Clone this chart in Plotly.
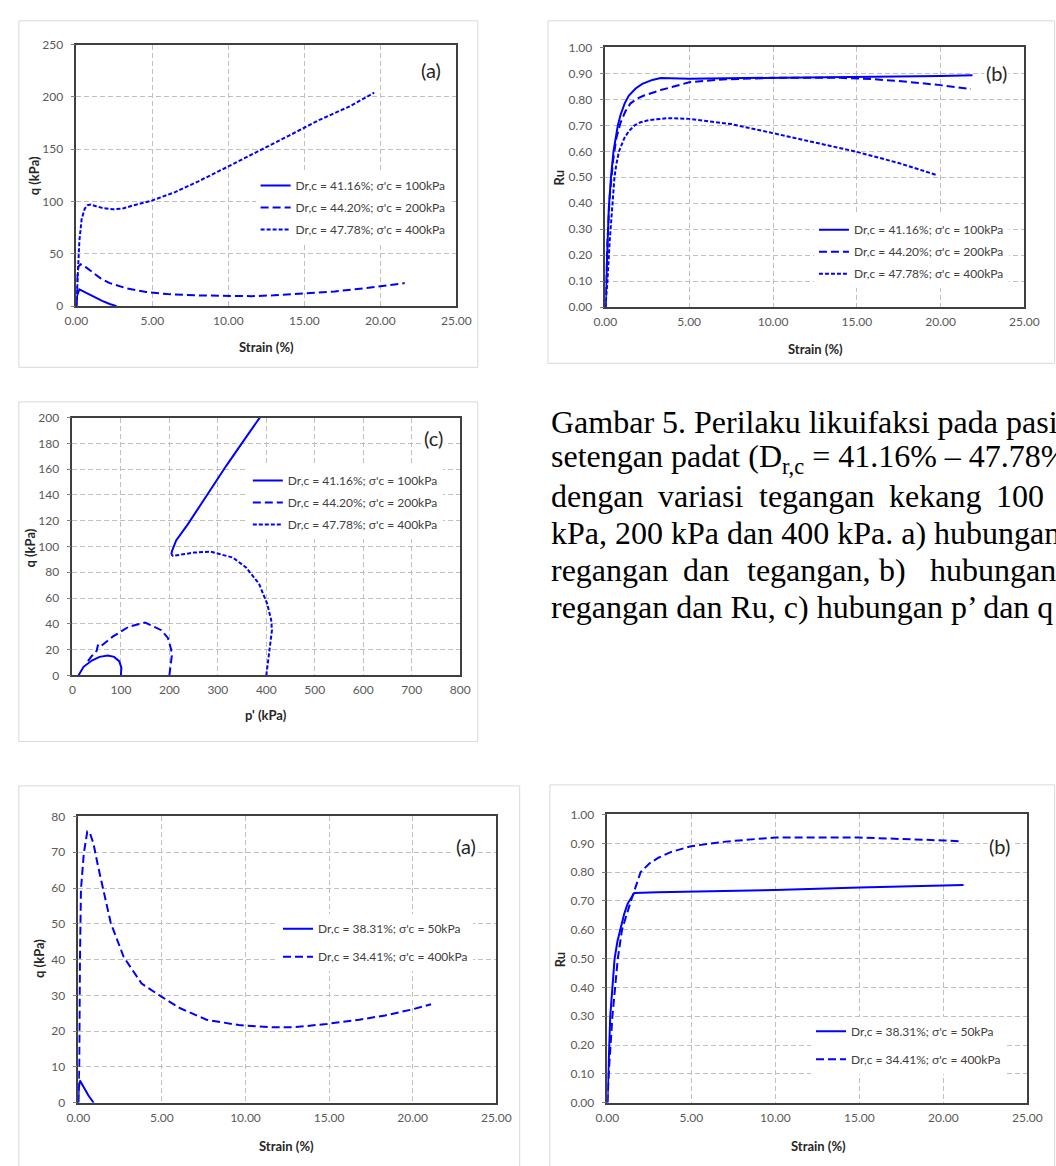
import plotly.graph_objects as go

W, H = 1056, 1166

# ---------------- DATA ----------------
# Panel (a) top: Strain (%) vs q (kPa)
a1_strain_100 = [0, 0.05, 0.2, 0.6, 1.1, 1.7, 2.2, 2.65]
a1_q_100 = [0, 10, 16, 13, 9.5, 5, 2, 0]
a1_strain_200 = [0, 0.03, 0.08, 0.15, 0.3, 0.6, 1.1, 1.6, 2.2, 3.3, 4.6, 6, 8, 10, 11.5, 13, 15, 17, 19, 20.5, 21.6]
a1_q_200 = [0, 20, 33, 38, 40, 37.5, 32, 26.5, 22, 17, 13.5, 11.5, 10.2, 9.5, 9.5, 10.3, 12, 14, 17.2, 19.7, 22]
a1_strain_400 = [0, 0.05, 0.1, 0.2, 0.35, 0.55, 0.75, 0.95, 1.3, 1.8, 2.4, 3.0, 3.7, 5.0, 6.5, 8.0, 10.0, 12.0, 14.0, 16.0, 18.0, 19.6]
a1_q_400 = [0, 18, 35, 62, 83, 93, 96.5, 97, 95.5, 93.5, 92.6, 93, 96, 101, 109, 119, 133.5, 148, 163, 178, 191, 204]

# Panel (b) top: Strain (%) vs Ru
b1_strain_100 = [0, 0.1, 0.2, 0.33, 0.48, 0.74, 0.9, 1.15, 1.4, 1.8, 2.2, 2.8, 3.3, 5, 10, 15, 20, 21.9]
b1_ru_100 = [0, 0.2, 0.38, 0.5, 0.6, 0.7, 0.74, 0.785, 0.815, 0.842, 0.86, 0.875, 0.882, 0.88, 0.883, 0.886, 0.89, 0.893]
b1_strain_200 = [0, 0.12, 0.25, 0.45, 0.65, 0.9, 1.2, 1.5, 1.9, 2.3, 3.3, 4.2, 5, 7, 10, 14, 16, 18, 20, 21.8]
b1_ru_200 = [0, 0.25, 0.42, 0.56, 0.65, 0.71, 0.755, 0.785, 0.803, 0.815, 0.836, 0.853, 0.866, 0.877, 0.883, 0.883, 0.878, 0.868, 0.855, 0.84]
b1_strain_400 = [0, 0.12, 0.25, 0.35, 0.45, 0.54, 0.65, 0.81, 1.12, 1.4, 1.74, 2.1, 2.6, 3.7, 5, 6, 7.5, 10, 12.5, 15, 17.5, 19.7]
b1_ru_400 = [0, 0.1, 0.25, 0.35, 0.45, 0.5, 0.55, 0.6, 0.65, 0.678, 0.7, 0.712, 0.72, 0.728, 0.725, 0.718, 0.705, 0.67, 0.635, 0.598, 0.555, 0.51]

# Panel (c): p' (kPa) vs q (kPa)
c_p_100 = [100, 101, 96.5, 86, 73, 56, 40, 23, 12.7]
c_q_100 = [0, 6, 11, 14.3, 15.3, 14.3, 11.5, 6.6, 0]
c_p_200 = [200, 205, 203.7, 197, 183.6, 150, 116.6, 83, 60, 53, 50, 40, 30]
c_q_200 = [0, 15, 20, 29, 35, 41, 37.8, 30, 23, 24, 19, 15, 10]
c_p_400 = [400, 405, 411.6, 410, 401.6, 385, 358, 331, 284.5, 251, 224, 207.5, 204]
c_q_400 = [0, 17.4, 35, 43, 55.7, 71, 83.8, 91.4, 96, 95.3, 93.5, 92.7, 94]
c_p_400_cont = [204, 205.5, 214, 237.6, 277.8, 318, 358, 392]
c_q_400_cont = [94, 96.5, 104.7, 117, 140, 163, 184.7, 203]

# Panel (a) bottom: Strain (%) vs q (kPa)
a2_strain_50 = [0, 0.03, 0.1, 0.3, 0.6, 0.92]
a2_q_50 = [0, 4, 6.2, 4.5, 2.1, 0]
a2_strain_400 = [0, 0.06, 0.1, 0.16, 0.33, 0.54, 0.68, 0.91, 1.17, 1.46, 1.94, 2.72, 3.79, 4.95, 6.1, 7.67, 9.6, 11.55, 12.9, 14.85, 16.8, 18.35, 19.9, 21.1]
a2_q_400 = [0, 10.8, 39, 59.5, 69.6, 75.8, 75.6, 72.4, 66.4, 60.4, 50.3, 40.7, 33.3, 29.7, 26.4, 23.2, 21.7, 21.1, 21.1, 22, 23.2, 24.4, 26, 27.5]

# Panel (b) bottom: Strain (%) vs Ru
b2_strain_50 = [0, 0.05, 0.1, 0.17, 0.3, 0.43, 0.6, 0.76, 1.0, 1.2, 1.45, 1.6, 3, 5, 10, 15, 20, 21.2]
b2_ru_50 = [0, 0.1, 0.2, 0.3, 0.4, 0.5, 0.56, 0.6, 0.655, 0.69, 0.715, 0.728, 0.73, 0.732, 0.738, 0.747, 0.755, 0.755]
b2_strain_400 = [0, 0.1, 0.3, 0.45, 0.62, 0.87, 1.4, 1.98, 2.5, 3.04, 3.8, 4.98, 6.9, 8.86, 10, 15, 18, 20, 21.1]
b2_ru_400 = [0, 0.12, 0.3, 0.4, 0.5, 0.6, 0.7, 0.8, 0.83, 0.85, 0.87, 0.89, 0.905, 0.915, 0.92, 0.92, 0.915, 0.91, 0.907]

names_top = ["Dr,c = 41.16%; σ'c = 100kPa", "Dr,c = 44.20%; σ'c = 200kPa", "Dr,c = 47.78%; σ'c = 400kPa"]
names_bot = ["Dr,c = 38.31%; σ'c = 50kPa", "Dr,c = 34.41%; σ'c = 400kPa"]

strain_ticks = [0, 5, 10, 15, 20, 25]

caption_lines = [
    "Gambar 5. Perilaku likuifaksi pada pasir",
    "setengan padat (D<sub>r,c</sub> = 41.16% – 47.78%)",
    ["dengan", "variasi", "tegangan", "kekang", "100"],
    "kPa, 200 kPa dan 400 kPa. a) hubungan",
    ["regangan", "dan", "tegangan,", "b)", "hubungan"],
    "regangan dan Ru, c) hubungan p’ dan q",
]

# ---------------- FIGURE ----------------
BLUE = "#0000FF"
SOLID = dict(color=BLUE, width=2)
LDASH = dict(color=BLUE, width=2, dash="8px,4px")
SDASH = dict(color=BLUE, width=2, dash="4px,2px")
styles_top = [SOLID, LDASH, SDASH]
styles_bot = [SOLID, LDASH]

fig = go.Figure()

def add(x, y, name, line, ax, leg, show=True, grp=None):
    fig.add_trace(go.Scatter(
        x=x, y=y, name=name, mode="lines", line=line,
        xaxis="x" + ax, yaxis="y" + ax, legend=leg, showlegend=show,
        legendgroup=grp or (leg + name), hoverinfo="skip"))

ax1, ax2, ax3, ax4, ax5 = "", "2", "3", "4", "5"

for xs, ys, nm, st in zip([a1_strain_100, a1_strain_200, a1_strain_400],
                          [a1_q_100, a1_q_200, a1_q_400], names_top, styles_top):
    add(xs, ys, nm, st, ax1, "legend")
for xs, ys, nm, st in zip([b1_strain_100, b1_strain_200, b1_strain_400],
                          [b1_ru_100, b1_ru_200, b1_ru_400], names_top, styles_top):
    add(xs, ys, nm, st, ax2, "legend2")
for xs, ys, nm, st in zip([c_p_100, c_p_200, c_p_400],
                          [c_q_100, c_q_200, c_q_400], names_top, styles_top):
    add(xs, ys, nm, st, ax3, "legend3")
add(c_p_400_cont, c_q_400_cont, names_top[2] + " ", SOLID, ax3, "legend3", show=False)
for xs, ys, nm, st in zip([a2_strain_50, a2_strain_400],
                          [a2_q_50, a2_q_400], names_bot, styles_bot):
    add(xs, ys, nm, st, ax4, "legend4")
for xs, ys, nm, st in zip([b2_strain_50, b2_strain_400],
                          [b2_ru_50, b2_ru_400], names_bot, styles_bot):
    add(xs, ys, nm, st, ax5, "legend5")


def dx(a, b):
    return [a / W, b / W]


def dy(t, b):
    return [1 - b / H, 1 - t / H]


TICKFONT = dict(family="Lato", size=12, color="#595959")
common = dict(showline=True, mirror=True, linecolor="#404040", linewidth=1.5,
              showgrid=True, gridcolor="#BFBFBF", griddash="5px,3px", gridwidth=1,
              zeroline=False, tickfont=TICKFONT, fixedrange=True)
xcommon = dict(common, ticks="", ticklabelstandoff=3)
ycommon = dict(common, ticks="outside", ticklen=4, tickcolor="#808080", ticklabelstandoff=5)

# plot areas (px): left, right, top, bottom
areas = {
    "": (66, 456, 37, 302),
    "2": (609, 1039, 40, 303),
    "3": (62, 460, 415, 676),
    "4": (68, 497, 819, 1109),
    "5": (611, 1042, 817, 1109),
}
xcfg = {
    "": dict(range=[0, 25], tickvals=strain_ticks, tickformat=".2f"),
    "2": dict(range=[0, 25], tickvals=strain_ticks, tickformat=".2f"),
    "3": dict(range=[0, 800], dtick=100, tickformat="d"),
    "4": dict(range=[0, 25], tickvals=strain_ticks, tickformat=".2f"),
    "5": dict(range=[0, 25], tickvals=strain_ticks, tickformat=".2f"),
}
ycfg = {
    "": dict(range=[0, 250], dtick=50, tickformat="d"),
    "2": dict(range=[0, 1], dtick=0.1, tickformat=".2f"),
    "3": dict(range=[0, 200], dtick=20, tickformat="d"),
    "4": dict(range=[0, 80], dtick=10, tickformat="d"),
    "5": dict(range=[0, 1], dtick=0.1, tickformat=".2f"),
}
lay = {}
for k, (l, r, t, b) in areas.items():
    lay["xaxis" + k] = dict(xcommon, domain=dx(l, r), anchor="y" + k, **xcfg[k])
    lay["yaxis" + k] = dict(ycommon, domain=dy(t, b), anchor="x" + k, **ycfg[k])
fig.update_layout(**lay)

# legends
LEGFONT = dict(family="Lato", size=12, color="#404040")
leg_pos = {  # (left px, top px, gap)
    "legend": (250, 165, 3),
    "legend2": (823, 210, 3),
    "legend3": (242, 464, 3),
    "legend4": (273, 918, 9),
    "legend5": (820, 1022, 9),
}
for k, (l, t, g) in leg_pos.items():
    fig.update_layout(**{k: dict(x=l / W, y=1 - t / H, xanchor="left", yanchor="top",
                                 bgcolor="white", borderwidth=0, font=LEGFONT,
                                 tracegroupgap=g, itemclick=False)})

# outer frames of each chart
frames = [(7, 478, 13, 364), (550, 1070, 13, 360), (7, 478, 399, 743),
          (7, 521, 788, 1180), (552, 1070, 787, 1180)]
for l, r, t, b in frames:
    fig.add_shape(type="rect", xref="paper", yref="paper", x0=l / W, x1=r / W,
                  y0=1 - b / H, y1=1 - t / H, line=dict(color="#D9D9D9", width=1),
                  fillcolor="white", layer="below")

ann = []
def note(text, x, y, size=12, bold=False, angle=0, color="#262626", family="Lato",
         xanchor="center", bg=None):
    d = dict(text=f"<b>{text}</b>" if bold else text, x=x / W, y=1 - y / H,
             xref="paper", yref="paper", showarrow=False, textangle=angle,
             font=dict(family=family, size=size, color=color), xanchor=xanchor,
             yanchor="middle")
    if bg:
        d["bgcolor"] = bg
    ann.append(d)

# panel labels
note("(a)", 430, 63, size=20, bg="white")
note("(b)", 1010, 66, size=20, bg="white")
note("(c)", 433, 436, size=20, bg="white")
note("(a)", 466, 849, size=20, bg="white")
note("(b)", 1013, 849, size=20, bg="white")

# axis titles
note("q (kPa)", 22, 170, size=13, bold=True, angle=-90)
note("Strain (%)", 261, 343, size=13, bold=True)
note("Ru", 561, 172, size=13, bold=True, angle=-90)
note("Strain (%)", 825, 345, size=13, bold=True)
note("q (kPa)", 18, 547, size=13, bold=True, angle=-90)
note("p' (kPa)", 261, 716, size=13, bold=True)
note("q (kPa)", 27, 963, size=13, bold=True, angle=-90)
note("Strain (%)", 282, 1153, size=13, bold=True)
note("Ru", 562, 964, size=13, bold=True, angle=-90)
note("Strain (%)", 828, 1153, size=13, bold=True)

# caption
SERIF = "Liberation Serif"
line_y = [419, 456.5, 494, 531.5, 569, 606.5]
word_x = {2: [551, 661, 765, 898, 1008], 4: [551, 687, 752, 888, 940]}
for i, ln in enumerate(caption_lines):
    if isinstance(ln, list):
        for w, xx in zip(ln, word_x[i]):
            note(w, xx, line_y[i], size=32, family=SERIF, color="black", xanchor="left")
    else:
        note(ln, 551, line_y[i], size=32, family=SERIF, color="black", xanchor="left")

fig.update_layout(annotations=ann, width=W, height=H,
                  margin=dict(l=0, r=0, t=0, b=0),
                  paper_bgcolor="white", plot_bgcolor="white")

fig.write_html("out.html")
